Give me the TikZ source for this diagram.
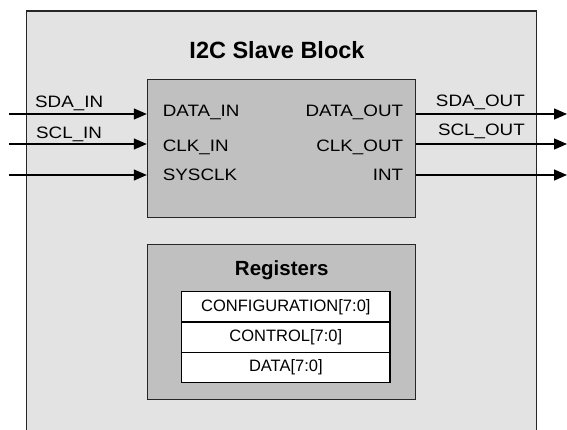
\documentclass[tikz,border=0pt]{standalone}
\usepackage{fontspec}
\setmainfont{Liberation Sans}
\newfontfamily\portfont{Liberation Sans}[FakeStretch=1.14]
\usetikzlibrary{arrows.meta}
\definecolor{outerfill}{HTML}{E3E3E3}
\definecolor{blockfill}{HTML}{C0C0C0}
\begin{document}
\begin{tikzpicture}[x=1pt,y=-1pt,
  portlbl/.style={inner sep=0pt, font=\portfont\fontsize{16.5}{18}\selectfont},
  sig/.style={line width=1.3pt, -{Triangle[length=13pt,width=11pt]}},
  block/.style={draw=black!85, line width=1pt, fill=blockfill, rectangle, inner sep=0pt},
  regrow/.style={draw=black, line width=1.2pt, fill=white, rectangle, minimum width=208.3pt, minimum height=30.3pt, inner sep=0pt, font=\fontsize{16.5}{18}\selectfont},
  titletext/.style={inner sep=0pt, font=\bfseries\fontsize{23.5}{26}\selectfont}
]
\useasboundingbox (0,0) rectangle (567,430);
% outer block (bottom edge outside the picture)
\fill[outerfill] (26.7,11) rectangle (536.3,430);
\draw[line width=1.5pt, black!85] (26.7,430) -- (26.7,11) -- (536.3,11) -- (536.3,430);
\node[titletext, anchor=base] (title) at (277,58.3) {I2C Slave Block};

% core block
\node[block, minimum width=268.4pt, minimum height=137.7pt] (core) at (281.5,148.85) {};
\node[portlbl, anchor=base west] (pdin) at (162.7,116.5) {DATA\_IN};
\node[portlbl, anchor=base west] (pcin) at (162.7,151.5) {CLK\_IN};
\node[portlbl, anchor=base west] (psys) at (162.7,180.8) {SYSCLK};
\node[portlbl, anchor=base east] (pdout) at (403.3,116.5) {DATA\_OUT};
\node[portlbl, anchor=base east] (pcout) at (403.3,151.5) {CLK\_OUT};
\node[portlbl, anchor=base east] (pint) at (403.3,180.8) {INT};

% external signals
\coordinate (in1) at (9,114);
\coordinate (in2) at (9,144);
\coordinate (in3) at (9,175);
\coordinate (out1) at (567,114);
\coordinate (out2) at (567,144);
\coordinate (out3) at (567,175);
\draw[sig] (in1) -- (in1 -| core.west);
\draw[sig] (in2) -- (in2 -| core.west);
\draw[sig] (in3) -- (in3 -| core.west);
\draw[sig] (out1 -| core.east) -- (out1);
\draw[sig] (out2 -| core.east) -- (out2);
\draw[sig] (out3 -| core.east) -- (out3);
\node[portlbl, anchor=base west] (lsdain) at (35,107.3) {SDA\_IN};
\node[portlbl, anchor=base west] (lsclin) at (36,138.5) {SCL\_IN};
\node[portlbl, anchor=base east] (lsdaout) at (525,106.5) {SDA\_OUT};
\node[portlbl, anchor=base east] (lsclout) at (525,135.8) {SCL\_OUT};

% registers block
\node[block, minimum width=268.4pt, minimum height=155pt] (regs) at (281.5,321.8) {};
\node[inner sep=0pt, font=\bfseries\fontsize{20.5}{23}\selectfont, anchor=base] (regtitle) at (281.7,275) {Registers};
\node[regrow] (r1) at (285.85,306.85) {CONFIGURATION[7:0]};
\node[regrow] (r2) at (285.85,337.15) {CONTROL[7:0]};
\node[regrow] (r3) at (285.85,367.45) {DATA[7:0]};
\end{tikzpicture}
\end{document}
